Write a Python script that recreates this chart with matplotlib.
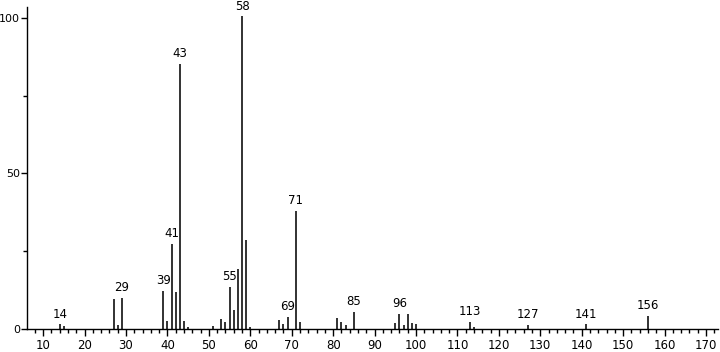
import matplotlib.pyplot as plt
from matplotlib.ticker import MultipleLocator

# m/z and relative intensity
mz = [14, 15, 27, 28, 29, 39, 40, 41, 42, 43, 44, 45,
      51, 53, 54, 55, 56, 57, 58, 59, 60,
      67, 68, 69, 71, 72, 81, 82, 83, 85,
      95, 96, 97, 98, 99, 100, 113, 114, 127, 141, 156]
intensity = [1.5, 1.0, 9.5, 1.2, 10.0, 12.2, 2.7, 27.3, 11.9, 85.2, 2.7, 0.7,
             1.0, 3.3, 2.1, 13.5, 6.2, 19.3, 100.5, 28.5, 0.8,
             3.0, 1.6, 3.8, 38.0, 2.3, 3.6, 2.3, 1.3, 5.5,
             2.0, 4.9, 1.2, 4.7, 2.0, 1.7, 2.2, 0.7, 1.3, 1.5, 4.3]
labelled = [14, 29, 39, 41, 43, 55, 58, 69, 71, 85, 96, 113, 127, 141, 156]

fig = plt.figure(figsize=(7.2, 3.52), dpi=100)
ax = fig.add_axes([27 / 720, 23 / 352, 691 / 720, 322 / 352])

ax.vlines(mz, 0, intensity, color='#222222', linewidth=1.3)

for m in labelled:
    h = intensity[mz.index(m)]
    ax.text(m, h + 1.2, str(m), ha='center', va='bottom', fontsize=8.5)

ax.set_xlim(6.1, 172.9)
ax.set_ylim(0, 103.5)

ax.xaxis.set_major_locator(MultipleLocator(10))
ax.xaxis.set_minor_locator(MultipleLocator(2))
ax.yaxis.set_major_locator(MultipleLocator(50))
ax.yaxis.set_minor_locator(MultipleLocator(25))
ax.set_xticks(range(10, 171, 10))

ax.tick_params(axis='x', which='major', length=5, width=1, labelsize=8.5, pad=2)
ax.tick_params(axis='y', which='major', length=4, width=1, labelsize=8, pad=1)
ax.tick_params(axis='both', which='minor', length=3, width=1)

for s in ['top', 'right']:
    ax.spines[s].set_visible(False)
for s in ['left', 'bottom']:
    ax.spines[s].set_linewidth(1)

fig.savefig('out.png', dpi=100)
